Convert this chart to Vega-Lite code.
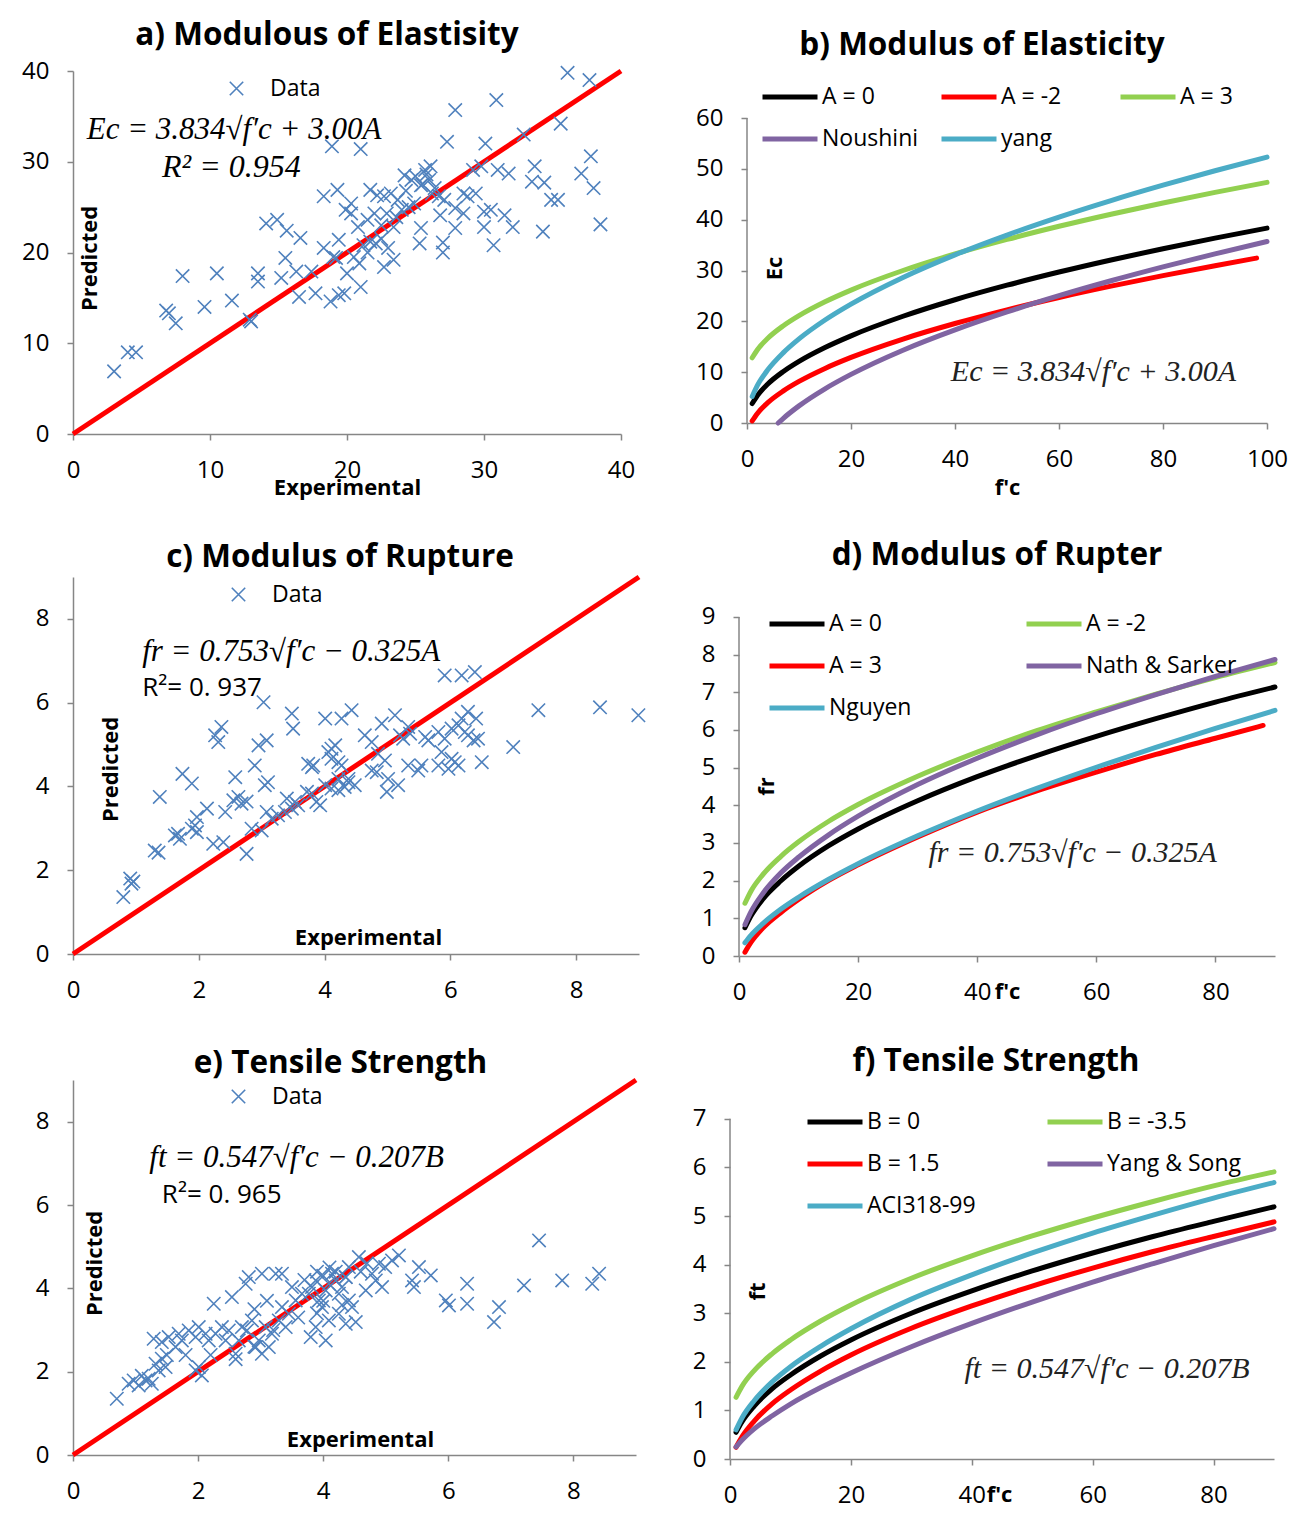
{
  "$schema": "https://vega.github.io/schema/vega-lite/v6.json",
  "autosize": {"type": "none"},
  "padding": {"left": 73, "top": 71, "right": 1227, "bottom": 1449},
  "background": "white",
  "config": {
    "font": "Open Sans",
    "view": {"stroke": null},
    "axis": {"grid": false, "labelFlush": false, "domainColor": "#868686", "tickColor": "#868686", "domainWidth": 1.5, "tickWidth": 1.5, "tickSize": 6, "labelFontSize": 24, "labelColor": "#000000", "labelPadding": 18, "titleFontSize": 22, "titleFontWeight": "bold", "titleColor": "#000000"},
    "title": {"fontSize": 31.5, "fontWeight": "bold", "color": "#000000", "anchor": "middle", "frame": "group"},
    "legend": {"labelFontSize": 23, "labelColor": "#000000", "title": null}
  },
  "spacing": 41,
  "resolve": {"scale": {"color": "independent"}, "legend": {"color": "independent"}},
  "vconcat": [
    {
      "spacing": 60,
      "resolve": {"scale": {"color": "independent"}, "legend": {"color": "independent"}},
      "hconcat": [
        {
          "width": 548, "height": 363,
          "title": {"text": "a) Modulous of Elastisity", "dx": -20, "offset": 8},
          "encoding": {
            "x": {"field": "x", "type": "quantitative", "scale": {"domain": [0, 40], "nice": false}, "axis": {"values": [0, 10, 20, 30, 40], "title": "Experimental", "titleY": 53, "titleBaseline": "middle"}},
            "y": {"field": "y", "type": "quantitative", "scale": {"domain": [0, 40], "nice": false}, "axis": {"values": [0, 10, 20, 30, 40], "title": "Predicted", "titleX": 16, "titleY": 187, "titleAngle": -90, "titleAlign": "center", "titleBaseline": "middle"}}
          },
          "layer": [
            {"data": {"values": [{"x": 0, "y": 0}, {"x": 40, "y": 40}]}, "mark": {"type": "line", "color": "#FF0000", "strokeWidth": 5}, "encoding": {}},
            {"data": {"values": [
              {"x":3.0,"y":6.9},{"x":4.0,"y":9.0},{"x":4.6,"y":9.0},{"x":6.8,"y":13.6},{"x":7.0,"y":13.3},{"x":7.5,"y":12.2},{"x":8.0,"y":17.4},{"x":9.6,"y":14.0},{"x":10.5,"y":17.7},{"x":11.6,"y":14.7},{"x":12.9,"y":12.6},{"x":13.0,"y":12.4},{"x":13.5,"y":17.7},{"x":13.5,"y":16.8},{"x":14.1,"y":23.2},{"x":14.9,"y":23.6},{"x":15.6,"y":22.4},{"x":15.5,"y":19.4},{"x":15.2,"y":17.2},{"x":16.3,"y":17.9},{"x":16.5,"y":15.1},{"x":16.6,"y":21.6},{"x":17.4,"y":17.9},{"x":17.7,"y":15.5},{"x":18.3,"y":20.5},{"x":18.3,"y":26.2},{"x":19.3,"y":26.9},{"x":18.9,"y":31.7},{"x":18.8,"y":14.6},{"x":19.4,"y":15.3},{"x":19.2,"y":19.4},{"x":19.4,"y":21.4},{"x":19.9,"y":24.7},
              {"x":36.1,"y":39.8},{"x":37.7,"y":39.0},{"x":30.9,"y":36.8},{"x":27.9,"y":35.7},{"x":35.6,"y":34.2},{"x":32.9,"y":33.0},{"x":27.3,"y":32.2},{"x":30.1,"y":32.0},{"x":21.0,"y":31.4},{"x":37.8,"y":30.6},{"x":33.7,"y":29.5},{"x":37.1,"y":28.7},{"x":38.0,"y":27.1},{"x":31.0,"y":29.1},{"x":31.8,"y":28.7},{"x":33.5,"y":27.8},{"x":34.4,"y":27.7},{"x":34.9,"y":25.8},{"x":35.4,"y":25.8},{"x":38.5,"y":23.1},{"x":34.3,"y":22.3},{"x":32.1,"y":22.8},{"x":31.5,"y":24.1},{"x":30.7,"y":20.8},{"x":30.0,"y":22.8},{"x":30.0,"y":24.5},{"x":30.5,"y":24.7},{"x":29.2,"y":29.1},{"x":29.8,"y":29.5},{"x":28.5,"y":26.5},{"x":28.8,"y":26.2},{"x":29.4,"y":26.5},{"x":27.9,"y":22.7},{"x":27.0,"y":21.1},{"x":27.0,"y":20.0},{"x":25.3,"y":21.0},{"x":25.4,"y":22.7},{"x":26.8,"y":24.1},{"x":27.9,"y":24.9},{"x":28.5,"y":24.3},
              {"x":21.7,"y":26.9},{"x":22.2,"y":26.3},{"x":22.7,"y":26.2},{"x":23.2,"y":26.5},{"x":23.7,"y":25.8},{"x":24.2,"y":28.5},{"x":24.7,"y":28.0},{"x":25.0,"y":28.4},{"x":25.4,"y":27.4},{"x":25.7,"y":29.1},{"x":26.1,"y":29.5},{"x":26.2,"y":26.5},{"x":26.7,"y":26.2},{"x":27.1,"y":25.8},{"x":24.9,"y":25.4},{"x":24.0,"y":24.7},{"x":22.9,"y":24.3},{"x":22.0,"y":24.3},{"x":21.5,"y":23.6},{"x":20.3,"y":24.3},{"x":20.8,"y":22.8},{"x":22.5,"y":23.0},{"x":23.4,"y":22.8},{"x":21.2,"y":20.8},{"x":21.7,"y":21.2},{"x":22.1,"y":21.0},{"x":20.9,"y":18.8},{"x":20.0,"y":17.7},{"x":21.0,"y":16.2},{"x":22.7,"y":18.4},{"x":23.4,"y":19.2},{"x":19.8,"y":15.5},{"x":20.3,"y":25.4},{"x":24.5,"y":25.0},{"x":25.5,"y":27.5},{"x":26.0,"y":28.0},{"x":23.0,"y":20.5},{"x":21.5,"y":20.0},{"x":20.5,"y":19.5},{"x":19.0,"y":19.5},{"x":22.5,"y":21.5},{"x":24.3,"y":26.8},{"x":25.8,"y":28.6},{"x":23.6,"y":23.9},{"x":26.4,"y":27.1}
            ]},
             "mark": {"type": "point", "shape": "M-1,-1L1,1M1,-1L-1,1", "size": 180, "strokeWidth": 1.6, "filled": false, "opacity": 1},
             "encoding": {"color": {"datum": "Data", "scale": {"range": ["#4F81BD"]}, "legend": {"orient": "none", "legendX": 152, "legendY": 6, "symbolType": "M-1,-1L1,1M1,-1L-1,1", "symbolSize": 180, "symbolStrokeWidth": 1.6, "labelOffset": 22}}}},
            {"data": {"values": [{"x": 1.0, "y": 33.5, "t": "Ec = 3.834√f′c + 3.00A"}]}, "mark": {"type": "text", "align": "left", "baseline": "middle", "font": "Liberation Serif", "fontStyle": "italic", "fontSize": 31}, "encoding": {"text": {"field": "t"}}},
            {"data": {"values": [{"x": 6.5, "y": 29.4, "t": "R² = 0.954"}]}, "mark": {"type": "text", "align": "left", "baseline": "middle", "font": "Liberation Serif", "fontStyle": "italic", "fontSize": 32}, "encoding": {"text": {"field": "t"}}}
          ]
        },
        {
          "width": 520, "height": 352,
          "title": {"text": "b) Modulus of Elasticity", "dx": -25, "offset": 6},
          "encoding": {
            "x": {"field": "x", "type": "quantitative", "scale": {"domain": [0, 100], "nice": false}, "axis": {"values": [0, 20, 40, 60, 80, 100], "title": "f'c", "titleY": 64, "titleBaseline": "middle"}},
            "y": {"field": "y", "type": "quantitative", "scale": {"domain": [0, 69.25], "nice": false}, "axis": {"values": [0, 10, 20, 30, 40, 50, 60], "domain": false, "title": "Ec", "titleX": 27, "titleY": 197, "titleAngle": -90, "titleAlign": "center", "titleBaseline": "middle"}}
          },
          "layer": [
            {"data": {"values": [{"x": 0, "y": 0, "y2": 60}]}, "mark": {"type": "rule", "color": "#868686", "strokeWidth": 1.5}, "encoding": {"y2": {"field": "y2"}}},
            {"data": {"values": [
              {"x":1,"y":3.83,"s":"A = 0"},{"x":2,"y":5.42,"s":"A = 0"},{"x":4,"y":7.67,"s":"A = 0"},{"x":7,"y":10.14,"s":"A = 0"},{"x":10,"y":12.12,"s":"A = 0"},{"x":15,"y":14.85,"s":"A = 0"},{"x":20,"y":17.15,"s":"A = 0"},{"x":30,"y":21.0,"s":"A = 0"},{"x":40,"y":24.25,"s":"A = 0"},{"x":50,"y":27.11,"s":"A = 0"},{"x":60,"y":29.7,"s":"A = 0"},{"x":70,"y":32.08,"s":"A = 0"},{"x":80,"y":34.29,"s":"A = 0"},{"x":90,"y":36.37,"s":"A = 0"},{"x":100,"y":38.34,"s":"A = 0"},
              {"x":1,"y":0.4,"s":"A = -2"},{"x":2,"y":1.89,"s":"A = -2"},{"x":4,"y":4.0,"s":"A = -2"},{"x":7,"y":6.32,"s":"A = -2"},{"x":10,"y":8.18,"s":"A = -2"},{"x":15,"y":10.74,"s":"A = -2"},{"x":20,"y":12.9,"s":"A = -2"},{"x":30,"y":16.52,"s":"A = -2"},{"x":40,"y":19.57,"s":"A = -2"},{"x":50,"y":22.26,"s":"A = -2"},{"x":60,"y":24.69,"s":"A = -2"},{"x":70,"y":26.92,"s":"A = -2"},{"x":80,"y":29.0,"s":"A = -2"},{"x":90,"y":30.95,"s":"A = -2"},{"x":98,"y":32.44,"s":"A = -2"},
              {"x":1,"y":12.83,"s":"A = 3"},{"x":2,"y":14.42,"s":"A = 3"},{"x":4,"y":16.67,"s":"A = 3"},{"x":7,"y":19.14,"s":"A = 3"},{"x":10,"y":21.12,"s":"A = 3"},{"x":15,"y":23.85,"s":"A = 3"},{"x":20,"y":26.15,"s":"A = 3"},{"x":30,"y":30.0,"s":"A = 3"},{"x":40,"y":33.25,"s":"A = 3"},{"x":50,"y":36.11,"s":"A = 3"},{"x":60,"y":38.7,"s":"A = 3"},{"x":70,"y":41.08,"s":"A = 3"},{"x":80,"y":43.29,"s":"A = 3"},{"x":90,"y":45.37,"s":"A = 3"},{"x":100,"y":47.34,"s":"A = 3"},
              {"x":6,"y":0,"s":"Noushini"},{"x":7,"y":0.93,"s":"Noushini"},{"x":10,"y":3.37,"s":"Noushini"},{"x":15,"y":6.73,"s":"Noushini"},{"x":20,"y":9.56,"s":"Noushini"},{"x":30,"y":14.32,"s":"Noushini"},{"x":40,"y":18.32,"s":"Noushini"},{"x":50,"y":21.85,"s":"Noushini"},{"x":60,"y":25.04,"s":"Noushini"},{"x":70,"y":27.98,"s":"Noushini"},{"x":80,"y":30.71,"s":"Noushini"},{"x":90,"y":33.27,"s":"Noushini"},{"x":100,"y":35.7,"s":"Noushini"},
              {"x":1,"y":5.23,"s":"yang"},{"x":2,"y":7.4,"s":"yang"},{"x":4,"y":10.46,"s":"yang"},{"x":7,"y":13.84,"s":"yang"},{"x":10,"y":16.54,"s":"yang"},{"x":15,"y":20.26,"s":"yang"},{"x":20,"y":23.39,"s":"yang"},{"x":30,"y":28.64,"s":"yang"},{"x":40,"y":33.08,"s":"yang"},{"x":50,"y":36.98,"s":"yang"},{"x":60,"y":40.51,"s":"yang"},{"x":70,"y":43.76,"s":"yang"},{"x":80,"y":46.78,"s":"yang"},{"x":90,"y":49.62,"s":"yang"},{"x":100,"y":52.3,"s":"yang"}
            ]},
             "mark": {"type": "line", "strokeWidth": 5, "strokeCap": "round", "interpolate": "monotone"},
             "encoding": {"color": {"field": "s", "type": "nominal", "scale": {"domain": ["A = 0", "A = -2", "A = 3", "Noushini", "yang"], "range": ["#000000", "#FF0000", "#92D050", "#8064A2", "#4BACC6"]}, "legend": {"orient": "none", "direction": "horizontal", "legendX": 13, "legendY": -4, "columns": 3, "gridAlign": "all", "columnPadding": 12, "rowPadding": 0, "symbolType": "stroke", "symbolSize": 3025, "symbolStrokeWidth": 5, "labelOffset": 2}}}},
            {"data": {"values": [{"x": 39.2, "y": 10.0, "t": "Ec = 3.834√f′c + 3.00A"}]}, "mark": {"type": "text", "align": "left", "baseline": "middle", "font": "Liberation Serif", "fontStyle": "italic", "fontSize": 30, "color": "#222222"}, "encoding": {"text": {"field": "t"}}}
          ]
        }
      ]
    },
    {
      "spacing": 52,
      "resolve": {"scale": {"color": "independent"}, "legend": {"color": "independent"}},
      "hconcat": [
        {
          "width": 566, "height": 377,
          "title": {"text": "c) Modulus of Rupture", "dx": -16, "offset": -6},
          "encoding": {
            "x": {"field": "x", "type": "quantitative", "scale": {"domain": [0, 9], "nice": false}, "axis": {"values": [0, 2, 4, 6, 8], "title": "Experimental", "titleY": -17, "titleX": 295, "titleBaseline": "middle"}},
            "y": {"field": "y", "type": "quantitative", "scale": {"domain": [0, 9], "nice": false}, "axis": {"values": [0, 2, 4, 6, 8], "title": "Predicted", "titleX": 37, "titleY": 192, "titleAngle": -90, "titleAlign": "center", "titleBaseline": "middle"}}
          },
          "layer": [
            {"data": {"values": [{"x": 0, "y": 0}, {"x": 9, "y": 9}]}, "mark": {"type": "line", "color": "#FF0000", "strokeWidth": 5}, "encoding": {}},
            {"data": {"values": [
              {"x":0.80,"y":1.36},{"x":0.91,"y":1.80},{"x":0.96,"y":1.73},{"x":0.93,"y":1.68},{"x":1.30,"y":2.47},{"x":1.36,"y":2.42},{"x":1.38,"y":3.75},{"x":1.62,"y":2.83},{"x":1.67,"y":2.87},{"x":1.70,"y":2.75},{"x":1.74,"y":4.30},{"x":1.89,"y":4.07},{"x":1.89,"y":2.99},{"x":1.94,"y":3.07},{"x":1.97,"y":2.91},{"x":1.97,"y":3.27},{"x":2.13,"y":3.47},{"x":2.23,"y":2.63},{"x":2.39,"y":2.67},{"x":2.26,"y":5.22},{"x":2.36,"y":5.42},{"x":2.31,"y":5.06},{"x":2.42,"y":3.39},{"x":2.58,"y":4.22},{"x":2.55,"y":3.67},{"x":2.63,"y":3.75},{"x":2.68,"y":3.59},{"x":2.76,"y":3.64},{"x":2.76,"y":2.39},{"x":2.89,"y":4.50},{"x":2.95,"y":4.98},{"x":3.08,"y":5.10},{"x":3.03,"y":6.01},{"x":2.84,"y":2.99},{"x":3.00,"y":2.95},{"x":3.05,"y":4.03},{"x":3.10,"y":4.10},{"x":3.08,"y":3.39},{"x":3.16,"y":3.23},{"x":3.26,"y":3.31},{"x":3.48,"y":5.74},{"x":3.50,"y":5.38},{"x":3.40,"y":3.71},{"x":3.53,"y":3.63},{"x":3.58,"y":3.55},{"x":3.37,"y":3.39},{"x":3.48,"y":3.47},{"x":3.74,"y":4.54},{"x":3.80,"y":4.46},{"x":3.82,"y":4.50},{"x":3.72,"y":3.87},{"x":3.80,"y":3.83},{"x":3.87,"y":3.63},{"x":3.93,"y":3.55},{"x":4.01,"y":5.62},{"x":4.27,"y":5.62},{"x":4.43,"y":5.82},{"x":4.06,"y":4.82},{"x":4.11,"y":4.90},{"x":4.17,"y":4.98},{"x":4.11,"y":4.66},{"x":4.22,"y":4.58},{"x":4.27,"y":4.50},{"x":4.01,"y":4.03},{"x":4.11,"y":3.95},{"x":4.22,"y":3.91},{"x":4.32,"y":3.99},{"x":4.22,"y":4.18},{"x":4.38,"y":4.10},
              {"x":5.91,"y":6.65},{"x":6.18,"y":6.65},{"x":6.39,"y":6.73},{"x":7.40,"y":5.82},{"x":8.38,"y":5.89},{"x":8.99,"y":5.70},{"x":7.00,"y":4.94},{"x":6.50,"y":4.58},{"x":6.28,"y":5.78},{"x":6.41,"y":5.62},{"x":6.18,"y":5.62},{"x":4.91,"y":5.50},{"x":5.12,"y":5.70},{"x":5.33,"y":5.42},{"x":4.64,"y":5.22},{"x":4.75,"y":5.06},{"x":5.20,"y":5.22},{"x":5.25,"y":5.14},{"x":5.36,"y":5.26},{"x":4.85,"y":4.78},{"x":4.96,"y":4.62},{"x":4.75,"y":4.38},{"x":4.83,"y":4.34},{"x":4.99,"y":3.87},{"x":5.17,"y":4.03},{"x":5.01,"y":4.18},{"x":4.38,"y":4.18},{"x":4.48,"y":4.03},{"x":5.54,"y":4.50},{"x":5.49,"y":4.38},{"x":5.33,"y":4.50},{"x":5.81,"y":5.30},{"x":5.91,"y":5.14},{"x":6.02,"y":5.38},{"x":6.13,"y":5.46},{"x":6.23,"y":5.30},{"x":5.86,"y":4.82},{"x":6.02,"y":4.66},{"x":6.13,"y":4.50},{"x":6.07,"y":4.58},{"x":5.81,"y":4.50},{"x":5.97,"y":4.42},{"x":6.28,"y":5.22},{"x":6.37,"y":5.10},{"x":6.44,"y":5.14},{"x":5.60,"y":5.18},{"x":5.65,"y":5.10}
            ]},
             "mark": {"type": "point", "shape": "M-1,-1L1,1M1,-1L-1,1", "size": 180, "strokeWidth": 1.6, "filled": false, "opacity": 1},
             "encoding": {"color": {"datum": "Data", "scale": {"range": ["#4F81BD"]}, "legend": {"orient": "none", "legendX": 154, "legendY": 6, "symbolType": "M-1,-1L1,1M1,-1L-1,1", "symbolSize": 180, "symbolStrokeWidth": 1.6, "labelOffset": 22}}}},
            {"data": {"values": [{"x": 1.10, "y": 7.21, "t": "fr = 0.753√f′c − 0.325A"}]}, "mark": {"type": "text", "align": "left", "baseline": "middle", "font": "Liberation Serif", "fontStyle": "italic", "fontSize": 31}, "encoding": {"text": {"field": "t"}}},
            {"data": {"values": [{"x": 1.10, "y": 6.35, "t": "R²= 0. 937"}]}, "mark": {"type": "text", "align": "left", "baseline": "middle", "fontSize": 26}, "encoding": {"text": {"field": "t"}}}
          ]
        },
        {
          "width": 536, "height": 379,
          "title": {"text": "d) Modulus of Rupter", "dx": -10, "offset": 6},
          "encoding": {
            "x": {"field": "x", "type": "quantitative", "scale": {"domain": [0, 90], "nice": false}, "axis": {"values": [0, 20, 40, 60, 80], "title": "f'c", "titleY": 35, "titleX": 268, "titleBaseline": "middle"}},
            "y": {"field": "y", "type": "quantitative", "scale": {"domain": [0, 10.06], "nice": false}, "axis": {"values": [0, 1, 2, 3, 4, 5, 6, 7, 8, 9], "domain": false, "title": "fr", "titleX": 27, "titleY": 209, "titleAngle": -90, "titleAlign": "center", "titleBaseline": "middle"}}
          },
          "layer": [
            {"data": {"values": [{"x": 0, "y": 0, "y2": 9}]}, "mark": {"type": "rule", "color": "#868686", "strokeWidth": 1.5}, "encoding": {"y2": {"field": "y2"}}},
            {"data": {"values": [
              {"x":1,"y":0.75,"s":"A = 0"},{"x":2,"y":1.06,"s":"A = 0"},{"x":4,"y":1.51,"s":"A = 0"},{"x":7,"y":1.99,"s":"A = 0"},{"x":10,"y":2.38,"s":"A = 0"},{"x":15,"y":2.92,"s":"A = 0"},{"x":20,"y":3.37,"s":"A = 0"},{"x":30,"y":4.12,"s":"A = 0"},{"x":40,"y":4.76,"s":"A = 0"},{"x":50,"y":5.32,"s":"A = 0"},{"x":60,"y":5.83,"s":"A = 0"},{"x":70,"y":6.3,"s":"A = 0"},{"x":80,"y":6.74,"s":"A = 0"},{"x":90,"y":7.14,"s":"A = 0"},
              {"x":1,"y":1.4,"s":"A = -2"},{"x":2,"y":1.72,"s":"A = -2"},{"x":4,"y":2.16,"s":"A = -2"},{"x":7,"y":2.64,"s":"A = -2"},{"x":10,"y":3.03,"s":"A = -2"},{"x":15,"y":3.57,"s":"A = -2"},{"x":20,"y":4.02,"s":"A = -2"},{"x":30,"y":4.77,"s":"A = -2"},{"x":40,"y":5.41,"s":"A = -2"},{"x":50,"y":5.98,"s":"A = -2"},{"x":60,"y":6.48,"s":"A = -2"},{"x":70,"y":6.95,"s":"A = -2"},{"x":80,"y":7.39,"s":"A = -2"},{"x":90,"y":7.79,"s":"A = -2"},
              {"x":1,"y":0.1,"s":"A = 3"},{"x":2,"y":0.36,"s":"A = 3"},{"x":4,"y":0.74,"s":"A = 3"},{"x":7,"y":1.15,"s":"A = 3"},{"x":10,"y":1.5,"s":"A = 3"},{"x":15,"y":2.0,"s":"A = 3"},{"x":20,"y":2.42,"s":"A = 3"},{"x":30,"y":3.16,"s":"A = 3"},{"x":40,"y":3.82,"s":"A = 3"},{"x":50,"y":4.38,"s":"A = 3"},{"x":60,"y":4.88,"s":"A = 3"},{"x":70,"y":5.35,"s":"A = 3"},{"x":80,"y":5.78,"s":"A = 3"},{"x":88,"y":6.12,"s":"A = 3"},
              {"x":1,"y":0.83,"s":"Nath & Sarker"},{"x":2,"y":1.17,"s":"Nath & Sarker"},{"x":4,"y":1.66,"s":"Nath & Sarker"},{"x":7,"y":2.2,"s":"Nath & Sarker"},{"x":10,"y":2.62,"s":"Nath & Sarker"},{"x":15,"y":3.21,"s":"Nath & Sarker"},{"x":20,"y":3.71,"s":"Nath & Sarker"},{"x":30,"y":4.55,"s":"Nath & Sarker"},{"x":40,"y":5.25,"s":"Nath & Sarker"},{"x":50,"y":5.87,"s":"Nath & Sarker"},{"x":60,"y":6.43,"s":"Nath & Sarker"},{"x":70,"y":6.94,"s":"Nath & Sarker"},{"x":80,"y":7.42,"s":"Nath & Sarker"},{"x":90,"y":7.87,"s":"Nath & Sarker"},
              {"x":1,"y":0.35,"s":"Nguyen"},{"x":2,"y":0.55,"s":"Nguyen"},{"x":4,"y":0.86,"s":"Nguyen"},{"x":7,"y":1.24,"s":"Nguyen"},{"x":10,"y":1.56,"s":"Nguyen"},{"x":15,"y":2.03,"s":"Nguyen"},{"x":20,"y":2.45,"s":"Nguyen"},{"x":30,"y":3.19,"s":"Nguyen"},{"x":40,"y":3.85,"s":"Nguyen"},{"x":50,"y":4.45,"s":"Nguyen"},{"x":60,"y":5.01,"s":"Nguyen"},{"x":70,"y":5.54,"s":"Nguyen"},{"x":80,"y":6.04,"s":"Nguyen"},{"x":90,"y":6.52,"s":"Nguyen"}
            ]},
             "mark": {"type": "line", "strokeWidth": 5, "strokeCap": "round", "interpolate": "monotone"},
             "encoding": {"color": {"field": "s", "type": "nominal", "scale": {"domain": ["A = 0", "A = -2", "A = 3", "Nath & Sarker", "Nguyen"], "range": ["#000000", "#92D050", "#FF0000", "#8064A2", "#4BACC6"]}, "legend": {"orient": "none", "direction": "horizontal", "legendX": 28, "legendY": 17, "columns": 2, "gridAlign": "all", "columnPadding": 36, "rowPadding": 0, "symbolType": "stroke", "symbolSize": 3025, "symbolStrokeWidth": 5, "labelOffset": 2}}}},
            {"data": {"values": [{"x": 31.8, "y": 2.73, "t": "fr = 0.753√f′c − 0.325A"}]}, "mark": {"type": "text", "align": "left", "baseline": "middle", "font": "Liberation Serif", "fontStyle": "italic", "fontSize": 30, "color": "#222222"}, "encoding": {"text": {"field": "t"}}}
          ]
        }
      ]
    },
    {
      "spacing": 46,
      "resolve": {"scale": {"color": "independent"}, "legend": {"color": "independent"}},
      "hconcat": [
        {
          "width": 563, "height": 375,
          "title": {"text": "e) Tensile Strength", "dx": -14, "offset": -9},
          "encoding": {
            "x": {"field": "x", "type": "quantitative", "scale": {"domain": [0, 9], "nice": false}, "axis": {"values": [0, 2, 4, 6, 8], "title": "Experimental", "titleY": -16, "titleX": 287, "titleBaseline": "middle"}},
            "y": {"field": "y", "type": "quantitative", "scale": {"domain": [0, 9], "nice": false}, "axis": {"values": [0, 2, 4, 6, 8], "title": "Predicted", "titleX": 21, "titleY": 183, "titleAngle": -90, "titleAlign": "center", "titleBaseline": "middle"}}
          },
          "layer": [
            {"data": {"values": [{"x": 0, "y": 0}, {"x": 9, "y": 9}]}, "mark": {"type": "line", "color": "#FF0000", "strokeWidth": 5}, "encoding": {}},
            {"data": {"values": [
              {"x":0.70,"y":1.35},{"x":0.89,"y":1.71},{"x":0.97,"y":1.79},{"x":1.05,"y":1.67},{"x":1.16,"y":1.79},{"x":1.21,"y":1.83},{"x":1.26,"y":1.71},{"x":1.32,"y":2.19},{"x":1.37,"y":2.03},{"x":1.42,"y":2.31},{"x":1.48,"y":2.11},{"x":1.29,"y":2.79},{"x":1.42,"y":2.71},{"x":1.53,"y":2.83},{"x":1.64,"y":2.59},{"x":1.69,"y":2.91},{"x":1.74,"y":2.75},{"x":1.85,"y":2.99},{"x":1.96,"y":2.83},{"x":2.01,"y":3.07},{"x":2.12,"y":2.91},{"x":1.96,"y":2.03},{"x":2.06,"y":1.91},{"x":2.01,"y":2.11},{"x":2.17,"y":2.75},{"x":2.28,"y":2.91},{"x":2.25,"y":3.63},{"x":2.38,"y":3.07},{"x":2.44,"y":2.75},{"x":2.49,"y":2.99},{"x":2.54,"y":3.79},{"x":2.60,"y":2.43},{"x":2.65,"y":2.75},{"x":2.70,"y":3.07},{"x":2.76,"y":4.11},{"x":2.81,"y":4.27},{"x":2.78,"y":2.99},{"x":2.86,"y":3.23},{"x":2.92,"y":2.59},{"x":2.97,"y":2.75},{"x":3.02,"y":2.43},{"x":3.08,"y":3.07},{"x":3.13,"y":2.59},{"x":3.02,"y":4.35},{"x":3.24,"y":4.35},{"x":3.18,"y":2.91},{"x":3.29,"y":3.23},{"x":3.34,"y":3.55},{"x":3.40,"y":3.07},{"x":3.45,"y":3.39},{"x":3.34,"y":4.35},{"x":3.50,"y":4.03},{"x":3.56,"y":3.71},{"x":3.66,"y":3.87},{"x":3.77,"y":3.87},{"x":3.82,"y":4.03},{"x":3.88,"y":4.19},{"x":3.93,"y":3.71},{"x":3.98,"y":3.55},{"x":4.04,"y":3.95},{"x":4.09,"y":4.11},{"x":4.14,"y":4.35},{"x":4.20,"y":4.19},{"x":4.25,"y":3.87},{"x":4.30,"y":4.03},{"x":4.36,"y":4.27},{"x":4.41,"y":3.71},{"x":3.80,"y":2.83},{"x":4.04,"y":2.75},{"x":3.88,"y":3.07},{"x":4.09,"y":3.23},{"x":4.25,"y":3.39},
              {"x":7.45,"y":5.15},{"x":8.41,"y":4.35},{"x":8.30,"y":4.11},{"x":7.82,"y":4.19},{"x":7.21,"y":4.07},{"x":6.81,"y":3.55},{"x":6.73,"y":3.19},{"x":6.30,"y":4.11},{"x":6.30,"y":3.63},{"x":5.96,"y":3.71},{"x":6.01,"y":3.59},{"x":5.72,"y":4.31},{"x":5.53,"y":4.51},{"x":5.42,"y":4.19},{"x":5.45,"y":4.03},{"x":5.21,"y":4.79},{"x":5.10,"y":4.67},{"x":4.99,"y":4.51},{"x":4.89,"y":4.59},{"x":4.78,"y":4.35},{"x":4.94,"y":4.03},{"x":4.68,"y":3.95},{"x":4.84,"y":4.19},{"x":4.57,"y":4.75},{"x":4.41,"y":4.51},{"x":4.36,"y":4.27},{"x":4.46,"y":3.55},{"x":4.52,"y":3.19},{"x":4.36,"y":3.15},
              {"x":1.1,"y":1.9},{"x":1.5,"y":2.4},{"x":1.8,"y":2.4},{"x":2.2,"y":2.4},{"x":2.9,"y":3.5},{"x":3.1,"y":3.7},{"x":3.2,"y":3.0},{"x":3.6,"y":3.3},{"x":3.7,"y":4.2},{"x":3.9,"y":4.4},{"x":4.0,"y":4.3},{"x":4.1,"y":4.5},{"x":4.2,"y":4.4},{"x":4.0,"y":3.7},{"x":3.9,"y":3.4},{"x":4.3,"y":3.6},{"x":4.6,"y":4.4},{"x":4.7,"y":4.6},{"x":2.6,"y":2.3},{"x":2.9,"y":2.6}
            ]},
             "mark": {"type": "point", "shape": "M-1,-1L1,1M1,-1L-1,1", "size": 180, "strokeWidth": 1.6, "filled": false, "opacity": 1},
             "encoding": {"color": {"datum": "Data", "scale": {"range": ["#4F81BD"]}, "legend": {"orient": "none", "legendX": 154, "legendY": 5, "symbolType": "M-1,-1L1,1M1,-1L-1,1", "symbolSize": 180, "symbolStrokeWidth": 1.6, "labelOffset": 22}}}},
            {"data": {"values": [{"x": 1.22, "y": 7.12, "t": "ft = 0.547√f′c − 0.207B"}]}, "mark": {"type": "text", "align": "left", "baseline": "middle", "font": "Liberation Serif", "fontStyle": "italic", "fontSize": 31}, "encoding": {"text": {"field": "t"}}},
            {"data": {"values": [{"x": 1.42, "y": 6.23, "t": "R²= 0. 965"}]}, "mark": {"type": "text", "align": "left", "baseline": "middle", "fontSize": 26}, "encoding": {"text": {"field": "t"}}}
          ]
        },
        {
          "width": 544, "height": 379,
          "title": {"text": "f) Tensile Strength", "dx": -6, "offset": 3},
          "encoding": {
            "x": {"field": "x", "type": "quantitative", "scale": {"domain": [0, 90], "nice": false}, "axis": {"values": [0, 20, 40, 60, 80], "title": "f'c", "titleY": 35, "titleX": 269, "titleBaseline": "middle"}},
            "y": {"field": "y", "type": "quantitative", "scale": {"domain": [0, 7.8], "nice": false}, "axis": {"values": [0, 1, 2, 3, 4, 5, 6, 7], "domain": false, "title": "ft", "titleX": 27, "titleY": 211, "titleAngle": -90, "titleAlign": "center", "titleBaseline": "middle"}}
          },
          "layer": [
            {"data": {"values": [{"x": 0, "y": 0, "y2": 7}]}, "mark": {"type": "rule", "color": "#868686", "strokeWidth": 1.5}, "encoding": {"y2": {"field": "y2"}}},
            {"data": {"values": [
              {"x":1,"y":0.55,"s":"B = 0"},{"x":2,"y":0.77,"s":"B = 0"},{"x":4,"y":1.09,"s":"B = 0"},{"x":7,"y":1.45,"s":"B = 0"},{"x":10,"y":1.73,"s":"B = 0"},{"x":15,"y":2.12,"s":"B = 0"},{"x":20,"y":2.45,"s":"B = 0"},{"x":30,"y":3.0,"s":"B = 0"},{"x":40,"y":3.46,"s":"B = 0"},{"x":50,"y":3.87,"s":"B = 0"},{"x":60,"y":4.24,"s":"B = 0"},{"x":70,"y":4.58,"s":"B = 0"},{"x":80,"y":4.89,"s":"B = 0"},{"x":90,"y":5.19,"s":"B = 0"},
              {"x":1,"y":1.27,"s":"B = -3.5"},{"x":2,"y":1.5,"s":"B = -3.5"},{"x":4,"y":1.82,"s":"B = -3.5"},{"x":7,"y":2.17,"s":"B = -3.5"},{"x":10,"y":2.45,"s":"B = -3.5"},{"x":15,"y":2.84,"s":"B = -3.5"},{"x":20,"y":3.17,"s":"B = -3.5"},{"x":30,"y":3.72,"s":"B = -3.5"},{"x":40,"y":4.18,"s":"B = -3.5"},{"x":50,"y":4.59,"s":"B = -3.5"},{"x":60,"y":4.96,"s":"B = -3.5"},{"x":70,"y":5.3,"s":"B = -3.5"},{"x":80,"y":5.62,"s":"B = -3.5"},{"x":90,"y":5.91,"s":"B = -3.5"},
              {"x":1,"y":0.24,"s":"B = 1.5"},{"x":2,"y":0.46,"s":"B = 1.5"},{"x":4,"y":0.78,"s":"B = 1.5"},{"x":7,"y":1.14,"s":"B = 1.5"},{"x":10,"y":1.42,"s":"B = 1.5"},{"x":15,"y":1.81,"s":"B = 1.5"},{"x":20,"y":2.14,"s":"B = 1.5"},{"x":30,"y":2.69,"s":"B = 1.5"},{"x":40,"y":3.15,"s":"B = 1.5"},{"x":50,"y":3.56,"s":"B = 1.5"},{"x":60,"y":3.93,"s":"B = 1.5"},{"x":70,"y":4.27,"s":"B = 1.5"},{"x":80,"y":4.58,"s":"B = 1.5"},{"x":90,"y":4.88,"s":"B = 1.5"},
              {"x":1,"y":0.25,"s":"Yang  & Song"},{"x":2,"y":0.39,"s":"Yang  & Song"},{"x":4,"y":0.62,"s":"Yang  & Song"},{"x":7,"y":0.89,"s":"Yang  & Song"},{"x":10,"y":1.13,"s":"Yang  & Song"},{"x":15,"y":1.47,"s":"Yang  & Song"},{"x":20,"y":1.77,"s":"Yang  & Song"},{"x":30,"y":2.31,"s":"Yang  & Song"},{"x":40,"y":2.79,"s":"Yang  & Song"},{"x":50,"y":3.23,"s":"Yang  & Song"},{"x":60,"y":3.64,"s":"Yang  & Song"},{"x":70,"y":4.02,"s":"Yang  & Song"},{"x":80,"y":4.39,"s":"Yang  & Song"},{"x":90,"y":4.74,"s":"Yang  & Song"},
              {"x":1,"y":0.6,"s":"ACI318-99"},{"x":2,"y":0.85,"s":"ACI318-99"},{"x":4,"y":1.2,"s":"ACI318-99"},{"x":7,"y":1.59,"s":"ACI318-99"},{"x":10,"y":1.9,"s":"ACI318-99"},{"x":15,"y":2.32,"s":"ACI318-99"},{"x":20,"y":2.68,"s":"ACI318-99"},{"x":30,"y":3.29,"s":"ACI318-99"},{"x":40,"y":3.79,"s":"ACI318-99"},{"x":50,"y":4.24,"s":"ACI318-99"},{"x":60,"y":4.65,"s":"ACI318-99"},{"x":70,"y":5.02,"s":"ACI318-99"},{"x":80,"y":5.37,"s":"ACI318-99"},{"x":90,"y":5.69,"s":"ACI318-99"}
            ]},
             "mark": {"type": "line", "strokeWidth": 5, "strokeCap": "round", "interpolate": "monotone"},
             "encoding": {"color": {"field": "s", "type": "nominal", "scale": {"domain": ["B = 0", "B = -3.5", "B = 1.5", "Yang  & Song", "ACI318-99"], "range": ["#000000", "#92D050", "#FF0000", "#8064A2", "#4BACC6"]}, "legend": {"orient": "none", "direction": "horizontal", "legendX": 75, "legendY": 12, "columns": 2, "gridAlign": "all", "columnPadding": 30, "rowPadding": 0, "symbolType": "stroke", "symbolSize": 3025, "symbolStrokeWidth": 5, "labelOffset": 2}}}},
            {"data": {"values": [{"x": 38.8, "y": 1.85, "t": "ft = 0.547√f′c − 0.207B"}]}, "mark": {"type": "text", "align": "left", "baseline": "middle", "font": "Liberation Serif", "fontStyle": "italic", "fontSize": 30, "color": "#222222"}, "encoding": {"text": {"field": "t"}}}
          ]
        }
      ]
    }
  ]
}
